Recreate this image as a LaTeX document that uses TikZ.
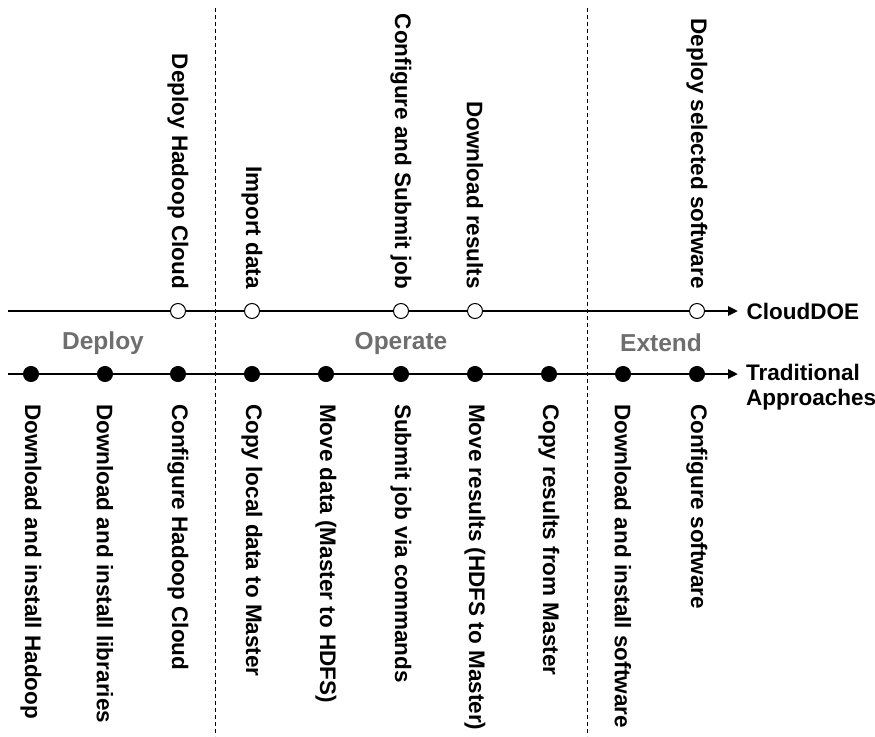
\documentclass[tikz,border=0pt]{standalone}
\usepackage{fontspec}
\setmainfont{Liberation Sans}
\usetikzlibrary{arrows.meta, positioning}
\definecolor{phasegray}{RGB}{110,110,110}

\tikzset{
    opendot/.style={circle, draw, line width=1pt, fill=white, minimum size=15pt, inner sep=0pt},
    fulldot/.style={circle, draw, line width=1pt, fill=black, minimum size=15pt, inner sep=0pt},
    uplabel/.style={rotate=-90, anchor=east, inner sep=0pt, font=\fontsize{22.5}{26}\selectfont\bfseries},
    downlabel/.style={rotate=-90, anchor=west, inner sep=0pt, font=\fontsize{22.5}{26}\selectfont\bfseries},
    phase/.style={text=phasegray, font=\fontsize{24.5}{28}\selectfont\bfseries},
    timeline/.style={line width=2.5pt, -{Triangle[length=10pt,width=9pt]}}
}

\begin{document}
\begin{tikzpicture}[x=1pt, y=-1pt]
        \useasboundingbox (0,0) rectangle (875,736);

        % phase separators
        \coordinate (sepa) at (215,8);
        \coordinate (sepb) at (215,736);
        \coordinate (sepc) at (587,8);
        \coordinate (sepd) at (587,736);
        \draw[dashed, line width=0.8pt, dash pattern=on 4pt off 3pt] (sepa) -- (sepb);
        \draw[dashed, line width=0.8pt, dash pattern=on 4pt off 3pt] (sepc) -- (sepd);

        % the two timelines
        \coordinate (cstart) at (8,311);
        \coordinate (cend) at (738,311);
        \coordinate (tstart) at (8,374);
        \coordinate (tend) at (738,374);
        \draw[timeline] (cstart) -- (cend);
        \draw[timeline] (tstart) -- (tend);

        \node[anchor=west, font=\fontsize{22.5}{26}\selectfont\bfseries] (cname) at (743,311) {CloudDOE};
        \node[anchor=west, align=left, inner sep=0pt, font=\fontsize{22.5}{25}\selectfont\bfseries] (tname) at (746,387) {Traditional\\Approaches};

        % phases
        \node[phase] (deploy) at (103,343) {Deploy};
        \node[phase] (operate) at (401,343) {Operate};
        \node[phase] (extend) at (661,343) {Extend};

        % CloudDOE steps
        \node[opendot] (c1) at (178,311) {};
        \node[opendot] (c2) at (252,311) {};
        \node[opendot] (c3) at (401,311) {};
        \node[opendot] (c4) at (475,311) {};
        \node[opendot] (c5) at (697,311) {};
        \node[uplabel] (cl1) at (178,289) {Deploy Hadoop Cloud};
        \node[uplabel] (cl2) at (252,289) {Import data};
        \node[uplabel] (cl3) at (401,289) {Configure and Submit job};
        \node[uplabel] (cl4) at (475,289) {Download results};
        \node[uplabel] (cl5) at (697,289) {Deploy selected software};

        % traditional steps
        \node[fulldot] (t1) at (31,374) {};
        \node[fulldot] (t2) at (105,374) {};
        \node[fulldot] (t3) at (178,374) {};
        \node[fulldot] (t4) at (252,374) {};
        \node[fulldot] (t5) at (326,374) {};
        \node[fulldot] (t6) at (401,374) {};
        \node[fulldot] (t7) at (475,374) {};
        \node[fulldot] (t8) at (549,374) {};
        \node[fulldot] (t9) at (623,374) {};
        \node[fulldot] (t10) at (697,374) {};
        \node[downlabel] (tl1) at (31,404) {Download and install Hadoop};
        \node[downlabel] (tl2) at (105,404) {Download and install libraries};
        \node[downlabel] (tl3) at (178,404) {Configure Hadoop Cloud};
        \node[downlabel] (tl4) at (252,404) {Copy local data to Master};
        \node[downlabel] (tl5) at (326,404) {Move data (Master to HDFS)};
        \node[downlabel] (tl6) at (401,404) {Submit job via commands};
        \node[downlabel] (tl7) at (475,404) {Move results (HDFS to Master)};
        \node[downlabel] (tl8) at (549,404) {Copy results from Master};
        \node[downlabel] (tl9) at (623,404) {Download and install software};
        \node[downlabel] (tl10) at (697,404) {Configure software};
    \end{tikzpicture}
\end{document}
